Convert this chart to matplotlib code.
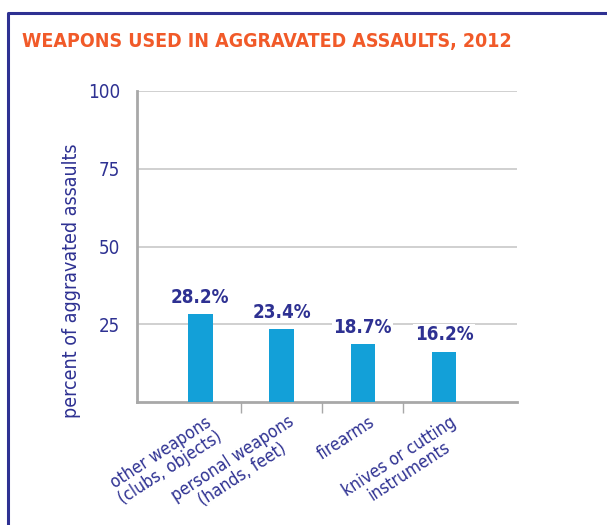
import os
import matplotlib.pyplot as plt
from matplotlib.lines import Line2D
from matplotlib import font_manager as fm

# Data
categories = ["other weapons\n(clubs, objects)", "personal weapons\n(hands, feet)",
              "firearms", "knives or cutting\ninstruments"]
values = [28.2, 23.4, 18.7, 16.2]
yticks = [25, 50, 75, 100]

navy = "#2e3192"
bar_color = "#13a0d8"
orange = "#f15a29"


def pick(patterns, fallback_weight):
    names = {os.path.basename(f.fname): f.fname for f in fm.fontManager.ttflist}
    for pat in patterns:
        for base, path in names.items():
            if base.startswith(pat):
                return fm.FontProperties(fname=path)
    return fm.FontProperties(family=['Roboto', 'DejaVu Sans'], weight=fallback_weight)


reg_fp = pick(['NotoSans-ExtraCondensed.', 'NotoSans-Condensed.', 'LiberationSansNarrow-Regular',
               'DejaVuSansCondensed.', 'RobotoCondensed-Regular'], 'normal')
bold_fp = pick(['NotoSans-ExtraCondensedBold.', 'NotoSans-CondensedBold.', 'LiberationSansNarrow-Bold.',
                'DejaVuSansCondensed-Bold.', 'RobotoCondensed-Bold'], 'bold')


def fp(base, size):
    p = base.copy()
    p.set_size(size)
    return p


def fit(txt, target, along='width'):
    # scale a text so its extent matches the reference
    r = fig.canvas.get_renderer()
    bb = txt.get_window_extent(r)
    cur = bb.width if along == 'width' else bb.height
    txt.set_fontsize(txt.get_fontsize() * target / cur)


W, H = 607, 525
fig = plt.figure(figsize=(W / 100, H / 100), dpi=100)

# frame around the panel
fig.add_artist(Line2D([7.5 / W, 7.5 / W, 1], [0, 1 - 13 / H, 1 - 13 / H],
                      transform=fig.transFigure, color=navy, lw=2.2))
title = fig.text(22 / W, 1 - 47 / H, "WEAPONS USED IN AGGRAVATED ASSAULTS, 2012",
                 color=orange, fontproperties=fp(bold_fp, 17), va='baseline')
fit(title, 490)

ax = fig.add_axes([137 / W, 1 - 402 / H, 380 / W, 311 / H])
x = range(len(values))
ax.bar(x, values, width=0.3, color=bar_color, zorder=3)
ax.set_xlim(-0.78, 3.9)
ax.set_ylim(0, 100)
ax.set_yticks(yticks)
ax.set_yticklabels([str(t) for t in yticks], fontproperties=fp(reg_fp, 13.5))
ax.yaxis.grid(True, color="#c8c8c8", lw=1.2, zorder=0)
ax.tick_params(axis='y', length=0, pad=12, labelcolor=navy)

for s in ["top", "right"]:
    ax.spines[s].set_visible(False)
for s in ["left", "bottom"]:
    ax.spines[s].set_color("#a8a8a8")
    ax.spines[s].set_linewidth(2)

# ticks between categories
ax.set_xticks([0.5, 1.5, 2.5])
ax.set_xticklabels([])
ax.tick_params(axis='x', length=8, width=1, color="#a8a8a8", direction='out')

for i, (v, lab) in enumerate(zip(values, categories)):
    ax.text(i, v + 2.3, f"{v}%", ha='center', va='bottom', color=navy,
            fontproperties=fp(bold_fp, 13.5), zorder=4,
            bbox=dict(facecolor='white', edgecolor='none', pad=1))
    ax.text(i + 0.07, -3.5, lab, ha='right', va='top', rotation=33,
            rotation_mode='anchor', multialignment='center', color=navy,
            fontproperties=fp(reg_fp, 12.5), linespacing=1.0)

fig.text(72 / W, 1 - 281 / H, "percent of aggravated assaults", rotation=90,
         ha='center', va='center', color=navy, fontproperties=fp(reg_fp, 14))

fig.savefig("out.png", dpi=100)
